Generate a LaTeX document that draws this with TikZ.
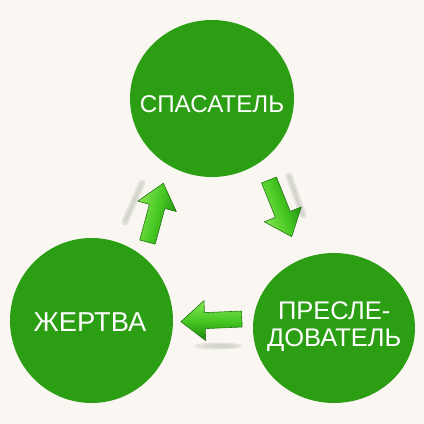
\documentclass[tikz,border=0pt]{standalone}
\usepackage{fontspec}
\setmainfont{Liberation Sans}
\usetikzlibrary{shapes.geometric,calc}
\definecolor{bg}{RGB}{250,247,242}
\definecolor{circ}{RGB}{43,158,20}
\definecolor{arlight}{RGB}{135,228,85}
\definecolor{armid}{RGB}{70,200,35}
\definecolor{ardark}{RGB}{28,135,12}
\definecolor{aredge}{RGB}{35,120,18}
\definecolor{streak}{RGB}{185,190,180}
\begin{document}
\begin{tikzpicture}[x=1pt,y=1pt,
  bubble/.style={ellipse, fill=circ, inner sep=0pt},
  lbl/.style={text=white, inner sep=0pt, anchor=north, align=center},
  arrowbody/.style={draw=aredge, line width=0.6pt, line join=round,
    top color=arlight, bottom color=ardark, middle color=armid},
  streakline/.style={draw=streak, line cap=round, opacity=0.35},
  blockarrow/.pic={\path[pic actions] (-30.5,-8) -- (6.5,-8) -- (6.5,-20) -- (30.5,0) -- (6.5,20) -- (6.5,8) -- (-30.5,8) -- cycle;}
]
\useasboundingbox (0,0) rectangle (424,424);
\fill[bg] (0,0) rectangle (424,424);

% circles
\node[bubble, minimum width=164pt, minimum height=157pt] (top) at (212,325.5) {};
\node[bubble, minimum width=163pt, minimum height=165pt] (left) at (91.5,103.5) {};
\node[bubble, minimum width=162pt, minimum height=150pt] (right) at (334,96) {};

% labels
\node[lbl, font=\fontsize{24.2}{28}\selectfont] (ttop) at ($(top.center)+(0,2.8)$) {СПАСАТЕЛЬ};
\node[lbl, font=\fontsize{27.3}{30}\selectfont] (tleft) at ($(left.center)+(-1.5,8.0)$) {ЖЕРТВА};
\node[lbl, font=\fontsize{25.5}{26.3}\selectfont] (tright) at ($(right.center)+(0.2,26.3)$) {ПРЕСЛЕ-\\ДОВАТЕЛЬ};

% faint streaks / shadows
\draw[streakline, line width=7pt] (142,241) -- (125,202);
\draw[streakline, line width=3pt] (142,241) -- (125,202);
\draw[streakline, line width=7pt] (289,248) -- (303,209);
\draw[streakline, line width=3pt] (289,248) -- (303,209);
\fill[streak, opacity=0.35] (218,78) ellipse [x radius=24, y radius=3.5];
\fill[streak, opacity=0.35] (220,78) ellipse [x radius=16, y radius=2];

% block arrows
\pic[arrowbody, rotate=74.9, shading angle=75] (a1) at ($(left)!0.5!(top)+(3.65,-3.15)$) {blockarrow};
\pic[arrowbody, rotate=-68.2, shading angle=112] (a2) at ($(top)!0.5!(right)+(7.35,4.9)$) {blockarrow};
\pic[arrowbody, rotate=182.5, shading angle=0] (a3) at ($(right)!0.5!(left)+(-1.4,3.9)$) {blockarrow};
\end{tikzpicture}
\end{document}
